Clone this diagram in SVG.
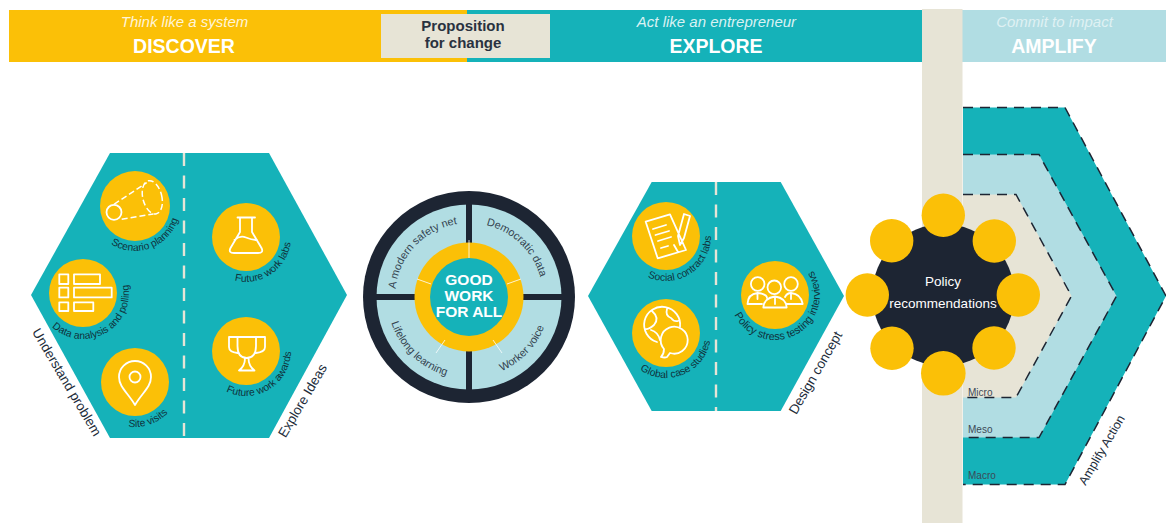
<svg xmlns="http://www.w3.org/2000/svg" width="1166" height="523" viewBox="0 0 1166 523">
<style>
text{font-family:"Liberation Sans",Arial,sans-serif}
.teal{fill:#15b2b9}.yel{fill:#fbc007}.bei{fill:#e7e4d6}.lb{fill:#b1dde3}.dk{fill:#1d2533}
.ic{fill:none;stroke:#fff;stroke-width:1.8;stroke-linejoin:round;stroke-linecap:round}
.icd{fill:none;stroke:#fff;stroke-width:1.5;stroke-dasharray:6 3}
.sub{font-size:15px;font-style:italic;fill:#fff;fill-opacity:.85;text-anchor:middle}
.hd{font-size:19.5px;font-weight:700;fill:#fff;text-anchor:middle}
.lab{font-size:10.3px;fill:#10323c;text-anchor:middle}
.ring{font-size:10.8px;fill:#33434f;text-anchor:middle}
.side{font-size:13.5px;fill:#222c3a;text-anchor:middle}
.lvl{font-size:10px;fill:#3c4a57}
.chev{stroke:#1d2533;stroke-width:1.5;stroke-dasharray:10 7}
.div{stroke:#e7e4d6;stroke-width:2.4;stroke-dasharray:13 9.5}
.tick{stroke:#fff;stroke-width:1;opacity:.8}
.gw{font-size:15.5px;font-weight:700;fill:#fff;text-anchor:middle}
</style>
<defs>
<path id="a1" d="M90.7 213.8A45 45 0 1 0 174 183.5"/>
<path id="a2" d="M37 292.2A46 46 0 1 0 106.7 253.6"/>
<path id="a3" d="M90.6 389A45 45 0 1 0 174.4 360.2"/>
<path id="a4" d="M204.9 255.3A45 45 0 1 0 278.4 205.7"/>
<path id="a5" d="M204.1 367.5A45 45 0 1 0 279.7 321.2"/>
<path id="a6" d="M621 238.4A45 45 0 1 0 686.4 195.9"/>
<path id="a7" d="M621.4 326.7A45 45 0 1 0 693.7 297.5"/>
<path id="a8" d="M736.2 272.1A45 45 0 1 0 775.4 250"/>
<path id="r1" d="M409.5 341A74 74 0 0 1 509.8 235.3"/>
<path id="r2" d="M425.5 237.1A74 74 0 0 1 530.3 338.4"/>
<path id="r3" d="M401 251.2A82 82 0 0 0 517.2 363.3"/>
<path id="r4" d="M423.7 364.2A81 81 0 0 0 534.5 249.4"/>
</defs>

<g id="header">
<rect class="yel" x="9" y="10" width="458" height="52"/>
<rect class="teal" x="467" y="10" width="455" height="52"/>
<rect class="lb" x="962" y="10" width="204" height="52"/>
<rect class="bei" x="381" y="14" width="169" height="44"/>
<text class="sub" x="184.500" y="27">Think like a system</text>
<text class="hd" x="184" y="53">DISCOVER</text>
<text x="463" y="31" font-size="15" font-weight="700" fill="#2a3240" text-anchor="middle">Proposition</text>
<text x="463" y="48" font-size="15" font-weight="700" fill="#2a3240" text-anchor="middle">for change</text>
<text class="sub" x="716.500" y="27">Act like an entrepreneur</text>
<text class="hd" x="716" y="53">EXPLORE</text>
<text class="sub" x="1054.500" y="27" style="fill-opacity:.6">Commit to impact</text>
<text class="hd" x="1054" y="53">AMPLIFY</text>
</g>

<g id="amplify">
<path class="teal chev" d="M963 107.500H1065L1166 296L1065 484.500H963"/>
<path class="lb chev" d="M963 154.500H1039L1116.500 296L1039 437.500H963"/>
<path class="bei chev" d="M963 194.500H1016L1071.500 296L1016 397.500H963"/>
<text class="lvl" x="968" y="396">Micro</text>
<text class="lvl" x="968" y="433">Meso</text>
<text class="lvl" x="968" y="479">Macro</text>
<text class="side" style="font-size:12.5px" transform="translate(1102,450) rotate(-59.600)" y="4">Amplify Action</text>
</g>

<rect id="pillar" class="bei" x="922" y="9" width="40.500" height="514"/>

<g id="discover-hexagon">
<path class="teal" d="M110 153H269L347 295L269 438H110L31 295Z"/>
<circle class="yel" cx="135" cy="206" r="35"/>
<path class="icd" d="M114 204.300L146.700 182.700M121.700 219.300L153.300 214"/>
<ellipse class="icd" cx="152.300" cy="197.300" rx="9.500" ry="17" transform="rotate(-14 152.300 197.300)"/>
<circle class="ic" cx="114" cy="212.300" r="7.500"/>
<text class="lab"><textPath href="#a1" startOffset="50%">Scenario planning</textPath></text>
<circle class="yel" cx="83" cy="293" r="34"/>
<g class="ic"><rect x="59.300" y="274.300" width="9" height="9.700"/><rect x="59.300" y="287.700" width="9" height="9.700"/><rect x="59.300" y="302.300" width="9" height="8.700"/><rect x="74" y="274.300" width="26" height="9.700"/><rect x="74" y="287.700" width="37.700" height="9.700"/><rect x="74" y="302.300" width="19.300" height="8.700"/></g>
<text class="lab"><textPath href="#a2" startOffset="50%">Data analysis and polling</textPath></text>
<circle class="yel" cx="135" cy="382" r="34"/>
<path class="ic" d="M135 405C128 393 119 387 119 377A16 16 0 0 1 151 377C151 387 142 393 135 405Z"/>
<circle class="ic" cx="135" cy="377" r="5.500"/>
<text class="lab"><textPath href="#a3" startOffset="50%">Site visits</textPath></text>
<circle class="yel" cx="246" cy="237" r="34"/>
<path class="ic" d="M237.500 217.500H255M240 217.500V232L230.500 248Q228 253 234 253H258Q264 253 261.500 248L252 232V217.500M234.500 240Q240 235 246 237.500T257 240"/>
<text class="lab"><textPath href="#a4" startOffset="50%">Future work labs</textPath></text>
<circle class="yel" cx="246" cy="351" r="34"/>
<path class="ic" d="M237.500 337H256V346Q256 358 246.700 358Q237.500 358 237.500 346ZM237.500 337H229V347Q229 352 237.500 353M256 337H265V347Q265 352 256 353M245 358Q245 366 239 370.500H254.500Q248.500 366 248.500 358"/>
<text class="lab"><textPath href="#a5" startOffset="50%">Future work awards</textPath></text>
<text class="side" transform="translate(62,385) rotate(59.400)" y="-1">Understand problem</text>
<text class="side" transform="translate(303,401) rotate(-59.400)" y="4">Explore Ideas</text>
</g>

<g id="good-work-wheel">
<circle class="dk" cx="469" cy="297" r="106"/>
<circle class="lb" cx="469" cy="297" r="92.500"/>
<path class="dk" d="M466 197H472V397H466ZM369 294H569V300H369Z"/>
<circle class="yel" cx="469" cy="297" r="54.500"/>
<circle class="teal" cx="469" cy="297" r="39"/>
<path class="tick" d="M469 240V258M417 279L431 284M521 279L507 284M445 340L436 353M493 340L502 353"/>
<text class="gw" x="469" y="285">GOOD</text>
<text class="gw" x="469" y="301">WORK</text>
<text class="gw" x="469" y="317">FOR ALL</text>
<text class="ring"><textPath href="#r1" startOffset="50%">A modern safety net</textPath></text>
<text class="ring"><textPath href="#r2" startOffset="50%">Democratic data</textPath></text>
<text class="ring"><textPath href="#r3" startOffset="50%">Lifelong learning</textPath></text>
<text class="ring"><textPath href="#r4" startOffset="50%">Worker voice</textPath></text>
</g>

<g id="explore-hexagon">
<path class="teal" d="M651.700 182H780.700L844 296L780.700 411H651.700L588 296Z"/>
<circle class="yel" cx="666" cy="236" r="34"/>
<path class="ic" d="M645.700 221.700L670 214.300L686 250L657.700 258.300ZM653 229L666 225M655.500 235L669 231M658 241L671 237M661 248L668 246M678 252L674 245M690 216L684 238L680 245L678 236L684 214Z"/>
<text class="lab"><textPath href="#a6" startOffset="50%">Social contract labs</textPath></text>
<circle class="yel" cx="666" cy="333" r="34"/>
<path class="ic" d="M680 327A18 18 0 1 0 657 342M652 311Q660 318 654 325Q648 330 645 329M660 340Q658 332 651 330M667 309Q665 316 671 318Q674 322 678 321"/>
<path class="ic" d="M667 357L670 353A13.500 13.500 0 1 0 664 349Q664 354 661 357Q665 358 667 357Z" style="fill:#fbc007"/>
<text class="lab"><textPath href="#a7" startOffset="50%">Global case studies</textPath></text>
<circle class="yel" cx="775" cy="295" r="34"/>
<g class="ic"><circle cx="757.700" cy="284" r="6.800"/><circle cx="791" cy="284" r="6.800"/><circle cx="774.300" cy="287.300" r="6.800"/><path d="M747.500 304Q748 294 757.500 293Q767 294 767 298M785 297Q787 293 791 293Q801 294 802.700 304H787M747.500 304H762M763.300 307.500Q764 298 775 296.500Q786 298 786.700 307.500ZM775 298V304M757.500 294V299M791 294V299"/></g>
<text class="lab" style="font-size:10.8px"><textPath href="#a8" startOffset="50%">Policy stress testing interviews</textPath></text>
<text class="side" transform="translate(816,373) rotate(-60)" y="4">Design concept</text>
</g>

<g id="policy-recommendations">
<circle class="dk" cx="943.300" cy="295" r="71"/>
<g class="yel"><circle cx="943.300" cy="215.300" r="21.700"/><circle cx="994.300" cy="241" r="21.700"/><circle cx="1018.300" cy="295" r="21.700"/><circle cx="994" cy="348" r="21.700"/><circle cx="943.300" cy="373.300" r="22.300"/><circle cx="892" cy="348.300" r="21.700"/><circle cx="867.300" cy="295" r="21.700"/><circle cx="891.700" cy="240.700" r="21.700"/></g>
<text x="943" y="286" font-size="13.500" fill="#fff" text-anchor="middle">Policy</text>
<text x="943" y="307.500" font-size="13.500" fill="#fff" text-anchor="middle">recommendations</text>
</g>

<g id="connectors">
<path class="div" d="M184 153V438"/>
<path class="div" d="M716 182V411"/>
</g>
</svg>
